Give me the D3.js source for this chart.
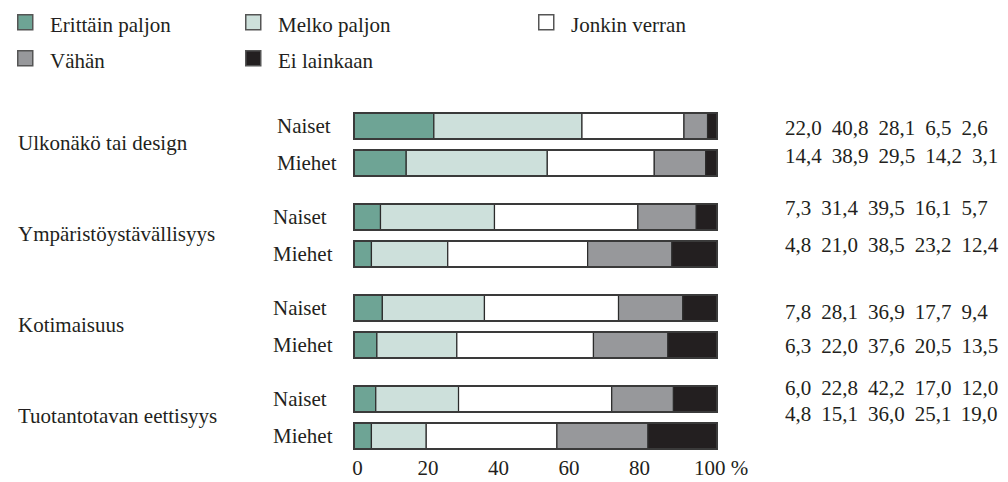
<!DOCTYPE html>
<html>
<head>
<meta charset="utf-8">
<script src="https://cdn.jsdelivr.net/npm/d3@7"></script>
<style>
  body { margin: 0; background: #fff; }
  svg text { font-family: "Liberation Serif", "DejaVu Serif", serif; fill: #231f20; }
</style>
</head>
<body>
<svg id="chart" width="1008" height="482"></svg>
<script>
// data
const categories = ["Ulkonäkö tai design", "Ympäristöystävällisyys", "Kotimaisuus", "Tuotantotavan eettisyys"];
const genders = ["Naiset", "Miehet"];
const seriesNames = ["Erittäin paljon", "Melko paljon", "Jonkin verran", "Vähän", "Ei lainkaan"];
// rows: Ulk N, Ulk M, Ymp N, Ymp M, Kot N, Kot M, Tuo N, Tuo M
const erittain = [22.0, 14.4, 7.3, 4.8, 7.8, 6.3, 6.0, 4.8];
const melko = [40.8, 38.9, 31.4, 21.0, 28.1, 22.0, 22.8, 15.1];
const jonkin = [28.1, 29.5, 39.5, 38.5, 36.9, 37.6, 42.2, 36.0];
const vahan = [6.5, 14.2, 16.1, 23.2, 17.7, 20.5, 17.0, 25.1];
const eiLainkaan = [2.6, 3.1, 5.7, 12.4, 9.4, 13.5, 12.0, 19.0];
const tickValues = [0, 20, 40, 60, 80, 100];

const colors = ["#6ea495", "#cde0db", "#ffffff", "#97989b", "#231f20"];
const fontSize = 21;
// small vertical nudges of the number rows, as in the original
const numberShift = [9, 0, -2, -2, 11, 8, -4, -15];

const svg = d3.select("#chart");

// build rows
const rows = [];
categories.forEach((c, ci) => {
  genders.forEach((g, gi) => {
    const i = ci * 2 + gi;
    rows.push({
      cat: c, gender: g, idx: i,
      s0: erittain[i], s1: melko[i], s2: jonkin[i], s3: vahan[i], s4: eiLainkaan[i]
    });
  });
});
const keys = ["s0", "s1", "s2", "s3", "s4"];
const stacked = d3.stack().keys(keys).offset(d3.stackOffsetExpand)(rows);

const x = d3.scaleLinear().domain([0, 1]).range([354, 717]);
const xAxisScale = d3.scaleLinear().domain([0, 100]).range([357.5, 710]);
const y0 = d3.scaleBand().domain(categories).range([113, 477]);
const y1 = d3.scaleBand().domain(genders).range([0, 63]).paddingInner(11 / 37);

const rowY = d => y0(d.cat) + y1(d.gender);

// legend
const legendCols = [17, 245, 538];
const legendRows = [14, 50];
const legend = svg.append("g");
seriesNames.forEach((name, i) => {
  const lx = legendCols[i % 3], ly = legendRows[Math.floor(i / 3)];
  legend.append("rect")
    .attr("x", lx + 0.75).attr("y", ly + 0.75)
    .attr("width", 15).attr("height", 15)
    .attr("fill", colors[i]).attr("stroke", "#555").attr("stroke-width", 1.5);
  legend.append("text")
    .attr("x", lx + 33).attr("y", ly + 18)
    .attr("font-size", fontSize)
    .text(name);
});

// category labels
svg.append("g").selectAll("text")
  .data(categories)
  .join("text")
  .attr("x", 18)
  .attr("y", c => y0(c) + 32 + 5)
  .attr("font-size", fontSize)
  .text(c => c);

// gender labels
svg.append("g").selectAll("text")
  .data(rows)
  .join("text")
  .attr("x", d => d.cat === categories[0] ? 277 : 273)
  .attr("y", d => rowY(d) + y1.bandwidth() / 2 + 7)
  .attr("font-size", fontSize)
  .text(d => d.gender);

// bars
const bars = svg.append("g");
stacked.forEach((layer, li) => {
  bars.append("g").selectAll("rect")
    .data(layer)
    .join("rect")
    .attr("x", d => x(d[0]))
    .attr("y", (d, i) => rowY(rows[i]))
    .attr("width", d => x(d[1]) - x(d[0]))
    .attr("height", y1.bandwidth())
    .attr("fill", colors[li])
    .attr("stroke", "#2b2b2b")
    .attr("stroke-width", 1.2);
});
// outlines
bars.append("g").selectAll("rect")
  .data(rows)
  .join("rect")
  .attr("x", x(0))
  .attr("y", d => rowY(d))
  .attr("width", x(1) - x(0))
  .attr("height", y1.bandwidth())
  .attr("fill", "none")
  .attr("stroke", "#3a3a3a")
  .attr("stroke-width", 2);

// number rows
const fmt = v => d3.format(".1f")(v).replace(".", ",");
const numbers = svg.append("g");
rows.forEach((r, i) => {
  const t = numbers.append("text")
    .attr("x", 785)
    .attr("y", rowY(r) + y1.bandwidth() / 2 + numberShift[i])
    .attr("font-size", fontSize);
  [erittain, melko, jonkin, vahan, eiLainkaan].forEach((arr, k) => {
    t.append("tspan").attr("dx", k === 0 ? 0 : 10).text(fmt(arr[i]));
  });
});

// x axis labels
svg.append("g").selectAll("text")
  .data(tickValues)
  .join("text")
  .attr("x", v => v === 100 ? xAxisScale(v) - 16 : xAxisScale(v))
  .attr("y", 475)
  .attr("text-anchor", v => v === 100 ? "start" : "middle")
  .attr("font-size", fontSize)
  .text(v => v === 100 ? "100\u00a0%" : v);
</script>
</body>
</html>
